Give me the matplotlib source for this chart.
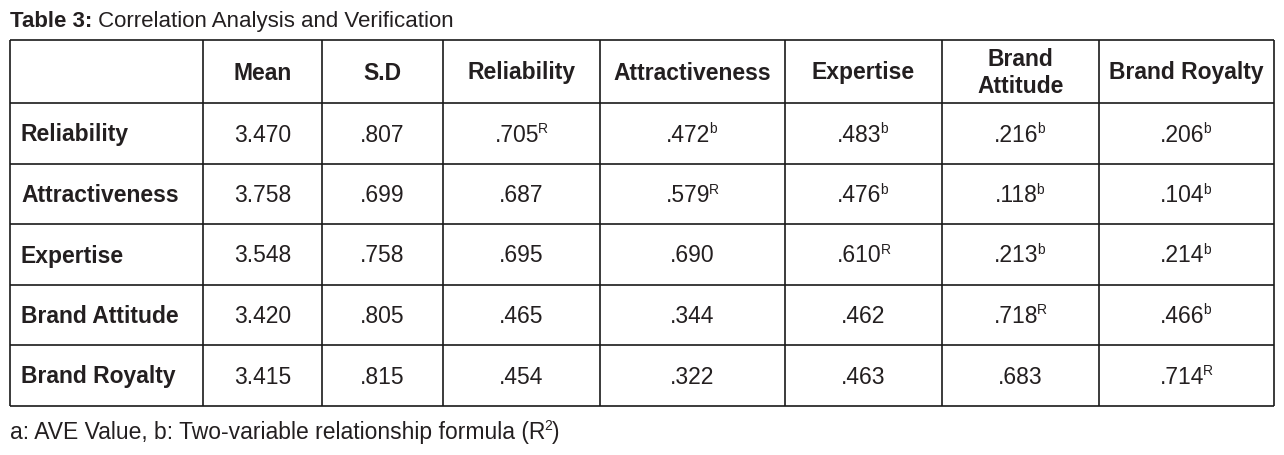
import matplotlib
matplotlib.use("Agg")
from matplotlib import pyplot as plt

plt.rcParams['font.family'] = ['Liberation Sans', 'DejaVu Sans']

# table content
title_bold = "Table 3:"
title_rest = " Correlation Analysis and Verification"
foot_main = "a: AVE Value, b: Two-variable relationship formula (R"
foot_sup = "2"
foot_end = ")"

headers = ["", "Mean", "S.D", "Reliability", "Attractiveness", "Expertise",
           "Brand\nAttitude", "Brand Royalty"]
rows = ["Reliability", "Attractiveness", "Expertise", "Brand Attitude", "Brand Royalty"]
mean = ["3.470", "3.758", "3.548", "3.420", "3.415"]
sd = [".807", ".699", ".758", ".805", ".815"]
corr = [
    [".705", ".472", ".483", ".216", ".206"],
    [".687", ".579", ".476", ".118", ".104"],
    [".695", ".690", ".610", ".213", ".214"],
    [".465", ".344", ".462", ".718", ".466"],
    [".454", ".322", ".463", ".683", ".714"],
]
# superscript marks: R on the diagonal, b above it, none below
marks = [
    ["R", "b", "b", "b", "b"],
    ["", "R", "b", "b", "b"],
    ["", "", "R", "b", "b"],
    ["", "", "", "R", "b"],
    ["", "", "", "", "R"],
]

col_x = [10, 203, 322, 443, 600, 785, 942, 1099, 1274]
row_y = [40, 103, 164, 224, 285, 345, 406]

W, H = 1284, 455
fig = plt.figure(figsize=(W / 100, H / 100), dpi=100)
ax = fig.add_axes([0, 0, 1, 1])
ax.set_xlim(0, W)
ax.set_ylim(H, 0)
ax.axis('off')

txt = '#231f20'
fs = 16.5
sup_fs = 10


def sup_after(t, s, base_y):
    # small raised letter right after a text
    return ax.annotate(s, xy=(1, base_y - 8.5), xycoords=(t, 'data'),
                       xytext=(-1.0, 0), textcoords='offset points',
                       fontsize=sup_fs, color=txt, ha='left', va='baseline')


# grid
ax.hlines(row_y, col_x[0], col_x[-1], color='#1a1a1a', lw=1.2)
ax.vlines(col_x, row_y[0], row_y[-1], color='#1a1a1a', lw=1.2)

# title
t1 = ax.text(10, 27, title_bold, fontsize=16, fontweight='bold', color=txt,
             ha='left', va='baseline')
ax.annotate(title_rest, xy=(1, 27), xycoords=(t1, 'data'), fontsize=16, color=txt,
            ha='left', va='baseline')

# header row
hy = (row_y[0] + row_y[1]) / 2 + 1.5
for j, h in enumerate(headers):
    if not h:
        continue
    cx = (col_x[j] + col_x[j + 1]) / 2
    ax.text(cx, hy, h, fontsize=fs, fontweight='bold', color=txt,
            ha='center', va='center', linespacing=1.25)

# body rows
for i, name in enumerate(rows):
    cy = (row_y[i + 1] + row_y[i + 2]) / 2
    base = cy + 8
    ax.text(col_x[0] + 11, base, name, fontsize=fs, fontweight='bold', color=txt,
            ha='left', va='baseline')
    vals = [mean[i], sd[i]] + corr[i]
    sups = ["", ""] + marks[i]
    for j, v in enumerate(vals):
        cx = (col_x[j + 1] + col_x[j + 2]) / 2
        if sups[j]:
            t = ax.text(cx - 4, base, v, fontsize=fs, color=txt, ha='center', va='baseline')
            sup_after(t, sups[j], base)
        else:
            ax.text(cx, base, v, fontsize=fs, color=txt, ha='center', va='baseline')

# footnote
fb = 439
tf = ax.text(10, fb, foot_main, fontsize=fs, color=txt, ha='left', va='baseline')
ts = sup_after(tf, foot_sup, fb)
ax.annotate(foot_end, xy=(1, fb), xycoords=(ts, 'data'), fontsize=fs, color=txt,
            ha='left', va='baseline')

fig.savefig('out.png', dpi=100)
